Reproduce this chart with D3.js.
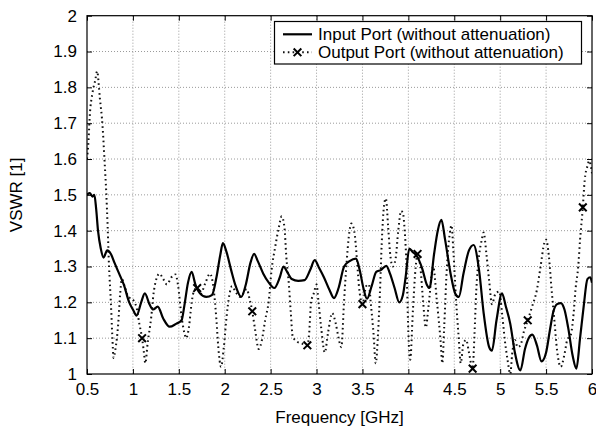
<!DOCTYPE html>
<html>
<head>
<meta charset="utf-8">
<script src="https://cdn.jsdelivr.net/npm/d3@7"></script>
<style>
  html, body { margin: 0; padding: 0; background: #fff; }
  svg { display: block; }
  text { font-family: "Liberation Sans", Arial, Helvetica, sans-serif; }
</style>
</head>
<body>
<svg id="chart" width="596" height="428"></svg>
<script>
// ---- Data ----
const inputFreq = [0.50,0.53,0.56,0.58,0.60,0.62,0.65,0.68,0.72,0.76,0.80,0.85,0.90,0.96,1.00,1.04,1.09,1.13,1.18,1.22,1.27,1.33,1.40,1.47,1.53,1.56,1.60,1.64,1.68,1.73,1.80,1.86,1.91,1.95,1.98,2.02,2.07,2.12,2.18,2.23,2.28,2.32,2.36,2.42,2.48,2.54,2.60,2.64,2.68,2.73,2.80,2.87,2.93,2.98,3.03,3.08,3.14,3.19,3.24,3.30,3.36,3.43,3.47,3.51,3.55,3.60,3.65,3.70,3.76,3.80,3.85,3.90,3.94,3.97,4.01,4.05,4.09,4.15,4.20,4.23,4.28,4.32,4.36,4.40,4.46,4.51,4.55,4.60,4.66,4.71,4.77,4.82,4.88,4.91,4.96,5.02,5.06,5.11,5.16,5.22,5.27,5.31,5.35,5.40,5.45,5.50,5.54,5.58,5.62,5.66,5.70,5.74,5.79,5.83,5.87,5.91,5.95,5.98,6.00];
const inputVswr = [1.50,1.505,1.495,1.50,1.46,1.40,1.35,1.325,1.345,1.335,1.31,1.28,1.25,1.20,1.18,1.163,1.20,1.225,1.195,1.18,1.188,1.155,1.132,1.14,1.15,1.19,1.255,1.285,1.25,1.225,1.215,1.22,1.27,1.33,1.365,1.34,1.29,1.245,1.215,1.25,1.31,1.335,1.315,1.28,1.255,1.24,1.27,1.30,1.285,1.265,1.26,1.262,1.29,1.318,1.295,1.27,1.235,1.212,1.24,1.30,1.315,1.322,1.29,1.24,1.21,1.245,1.285,1.29,1.302,1.28,1.24,1.20,1.22,1.27,1.35,1.34,1.33,1.295,1.25,1.24,1.335,1.40,1.43,1.375,1.28,1.225,1.215,1.28,1.345,1.36,1.29,1.17,1.075,1.065,1.15,1.225,1.19,1.14,1.06,1.01,1.07,1.10,1.11,1.08,1.035,1.06,1.12,1.175,1.195,1.198,1.18,1.13,1.05,1.015,1.10,1.19,1.265,1.27,1.255];

const outputFreq = [0.50,0.515,0.53,0.56,0.59,0.61,0.64,0.67,0.69,0.71,0.725,0.74,0.76,0.775,0.79,0.81,0.84,0.86,0.88,0.91,0.95,0.99,1.04,1.07,1.10,1.12,1.135,1.16,1.20,1.225,1.25,1.29,1.33,1.37,1.42,1.465,1.49,1.53,1.56,1.58,1.61,1.64,1.67,1.70,1.74,1.79,1.84,1.88,1.91,1.93,1.96,1.99,2.02,2.05,2.08,2.12,2.17,2.24,2.27,2.30,2.33,2.37,2.405,2.44,2.48,2.51,2.55,2.59,2.62,2.65,2.67,2.70,2.72,2.74,2.79,2.84,2.90,2.92,2.94,2.97,3.00,3.02,3.05,3.09,3.125,3.17,3.21,3.24,3.27,3.30,3.33,3.35,3.38,3.41,3.44,3.46,3.50,3.54,3.57,3.59,3.62,3.645,3.67,3.69,3.71,3.735,3.755,3.78,3.80,3.83,3.86,3.89,3.92,3.94,3.96,3.98,4.00,4.02,4.05,4.08,4.10,4.13,4.16,4.19,4.22,4.27,4.31,4.35,4.37,4.39,4.42,4.45,4.47,4.49,4.52,4.55,4.57,4.60,4.63,4.66,4.70,4.72,4.74,4.77,4.80,4.82,4.85,4.88,4.91,4.95,4.99,5.02,5.05,5.08,5.11,5.13,5.16,5.19,5.22,5.26,5.30,5.35,5.40,5.44,5.48,5.50,5.53,5.56,5.59,5.62,5.66,5.70,5.73,5.77,5.80,5.82,5.85,5.87,5.90,5.92,5.95,5.97,6.00];
const outputVswr = [1.60,1.645,1.72,1.785,1.82,1.845,1.77,1.69,1.60,1.505,1.41,1.30,1.20,1.11,1.045,1.07,1.14,1.22,1.265,1.245,1.215,1.21,1.185,1.14,1.10,1.06,1.03,1.085,1.16,1.225,1.26,1.28,1.265,1.25,1.27,1.278,1.25,1.16,1.115,1.10,1.13,1.20,1.235,1.24,1.225,1.255,1.28,1.235,1.15,1.075,1.02,1.075,1.16,1.22,1.245,1.228,1.215,1.237,1.21,1.175,1.125,1.07,1.095,1.15,1.205,1.29,1.355,1.41,1.44,1.41,1.33,1.245,1.17,1.105,1.09,1.085,1.08,1.115,1.20,1.225,1.25,1.205,1.13,1.06,1.115,1.17,1.14,1.10,1.075,1.205,1.32,1.38,1.42,1.40,1.32,1.25,1.195,1.245,1.25,1.20,1.115,1.03,1.115,1.225,1.365,1.47,1.49,1.41,1.34,1.30,1.32,1.40,1.455,1.45,1.40,1.30,1.115,1.04,1.18,1.30,1.335,1.30,1.205,1.13,1.19,1.30,1.205,1.095,1.03,1.13,1.30,1.39,1.415,1.345,1.205,1.095,1.03,1.085,1.095,1.06,1.015,1.11,1.235,1.33,1.375,1.395,1.335,1.26,1.195,1.225,1.23,1.17,1.095,1.04,1.00,1.055,1.095,1.075,1.08,1.12,1.15,1.19,1.235,1.30,1.365,1.375,1.33,1.235,1.15,1.065,1.02,1.055,1.095,1.11,1.17,1.235,1.30,1.375,1.465,1.54,1.58,1.595,1.56];

// point markers of the output curve (every 0.6 GHz)
const markerFreq = [1.10,1.70,2.30,2.90,3.50,4.10,4.70,5.30,5.90];
const markerVswr = [1.10,1.24,1.175,1.08,1.195,1.335,1.015,1.15,1.465];

const xTicks = [0.5,1,1.5,2,2.5,3,3.5,4,4.5,5,5.5,6];
const yTicks = [1,1.1,1.2,1.3,1.4,1.5,1.6,1.7,1.8,1.9,2];
const seriesNames = ["Input Port (without attenuation)", "Output Port (without attenuation)"];
const xTitle = "Frequency [GHz]";
const yTitle = "VSWR [1]";

// ---- Layout ----
const FS = 17;
const svg = d3.select("#chart");
const L = 87, R = 592, T = 15.7, B = 374;
const x = d3.scaleLinear().domain([0.5, 6]).range([L, R]);
const y = d3.scaleLinear().domain([1, 2]).range([B, T]);
const fmt = d => String(+d.toFixed(1));

// grid
const grid = svg.append("g");
grid.selectAll("line.gx").data(xTicks.slice(1, -1)).join("line")
  .attr("x1", d => x(d)).attr("x2", d => x(d)).attr("y1", T).attr("y2", B)
  .attr("stroke", "#9a9a9a").attr("stroke-width", 1).attr("stroke-dasharray", "1,2");
grid.selectAll("line.gy").data(yTicks.slice(1, -1)).join("line")
  .attr("x1", L).attr("x2", R).attr("y1", d => y(d)).attr("y2", d => y(d))
  .attr("stroke", "#9a9a9a").attr("stroke-width", 1).attr("stroke-dasharray", "1,2");

// axes (inward ticks, mirrored)
const tickFont = g => g.selectAll("text").attr("font-size", FS).attr("fill", "#000")
  .style("font-family", "'Liberation Sans', Arial, sans-serif");
const xAxisB = svg.append("g").attr("transform", `translate(0,${B})`)
  .call(d3.axisBottom(x).tickValues(xTicks).tickFormat(fmt).tickSizeInner(-5).tickSizeOuter(0).tickPadding(9));
const xAxisT = svg.append("g").attr("transform", `translate(0,${T})`)
  .call(d3.axisTop(x).tickValues(xTicks).tickFormat("").tickSizeInner(-5).tickSizeOuter(0));
const yAxisL = svg.append("g").attr("transform", `translate(${L},0)`)
  .call(d3.axisLeft(y).tickValues(yTicks).tickFormat(fmt).tickSizeInner(-5).tickSizeOuter(0).tickPadding(10));
const yAxisR = svg.append("g").attr("transform", `translate(${R},0)`)
  .call(d3.axisRight(y).tickValues(yTicks).tickFormat("").tickSizeInner(-5).tickSizeOuter(0));
[xAxisB, xAxisT, yAxisL, yAxisR].forEach(g => {
  g.select(".domain").remove();
  g.selectAll(".tick line").attr("stroke", "#000");
  tickFont(g);
});

// clip
svg.append("clipPath").attr("id", "clip").append("rect")
  .attr("x", L).attr("y", T).attr("width", R - L).attr("height", B - T);

const plot = svg.append("g").attr("clip-path", "url(#clip)");
const inputData = inputFreq.map((f, i) => [f, inputVswr[i]]);
const outputData = outputFreq.map((f, i) => [f, outputVswr[i]]);
const line = d3.line().x(d => x(d[0])).y(d => y(d[1])).curve(d3.curveMonotoneX);

plot.append("path").datum(outputData).attr("d", line)
  .attr("fill", "none").attr("stroke", "#111").attr("stroke-width", 2)
  .attr("stroke-dasharray", "1.6,3.2");
plot.append("path").datum(inputData).attr("d", line)
  .attr("fill", "none").attr("stroke", "#000").attr("stroke-width", 2.2)
  .attr("stroke-linejoin", "round");

const cross = d3.symbol().type(d3.symbolX).size(40);
plot.selectAll("path.mk").data(markerFreq).join("path")
  .attr("transform", (d, i) => `translate(${x(d)},${y(markerVswr[i])})`)
  .attr("d", cross).attr("fill", "none").attr("stroke", "#000").attr("stroke-width", 2);

// frame
svg.append("rect").attr("x", L).attr("y", T).attr("width", R - L).attr("height", B - T)
  .attr("fill", "none").attr("stroke", "#000").attr("stroke-width", 1.2);

// legend
const lg = svg.append("g");
lg.append("rect").attr("x", 274.5).attr("y", 21.5).attr("width", 307).attr("height", 42.5)
  .attr("fill", "#fff").attr("stroke", "#000").attr("stroke-width", 1.2);
const rowY = [34.3, 52.3];
lg.append("line").attr("x1", 283).attr("x2", 312).attr("y1", rowY[0]).attr("y2", rowY[0])
  .attr("stroke", "#000").attr("stroke-width", 2.2);
lg.append("line").attr("x1", 283).attr("x2", 312).attr("y1", rowY[1]).attr("y2", rowY[1])
  .attr("stroke", "#111").attr("stroke-width", 2).attr("stroke-dasharray", "1.6,3.2");
lg.append("path").attr("transform", `translate(297.5,${rowY[1]})`).attr("d", cross)
  .attr("fill", "none").attr("stroke", "#000").attr("stroke-width", 2);
lg.selectAll("text.lt").data(seriesNames).join("text")
  .attr("x", 318).attr("y", (d, i) => rowY[i] + 5.6)
  .attr("font-size", FS).attr("fill", "#000").text(d => d);

// titles
svg.append("text").attr("x", (L + R) / 2).attr("y", 423).attr("text-anchor", "middle")
  .attr("font-size", FS).text(xTitle);
svg.append("text").attr("transform", `translate(22,${(T + B) / 2}) rotate(-90)`)
  .attr("text-anchor", "middle").attr("font-size", FS).text(yTitle);
</script>
</body>
</html>
